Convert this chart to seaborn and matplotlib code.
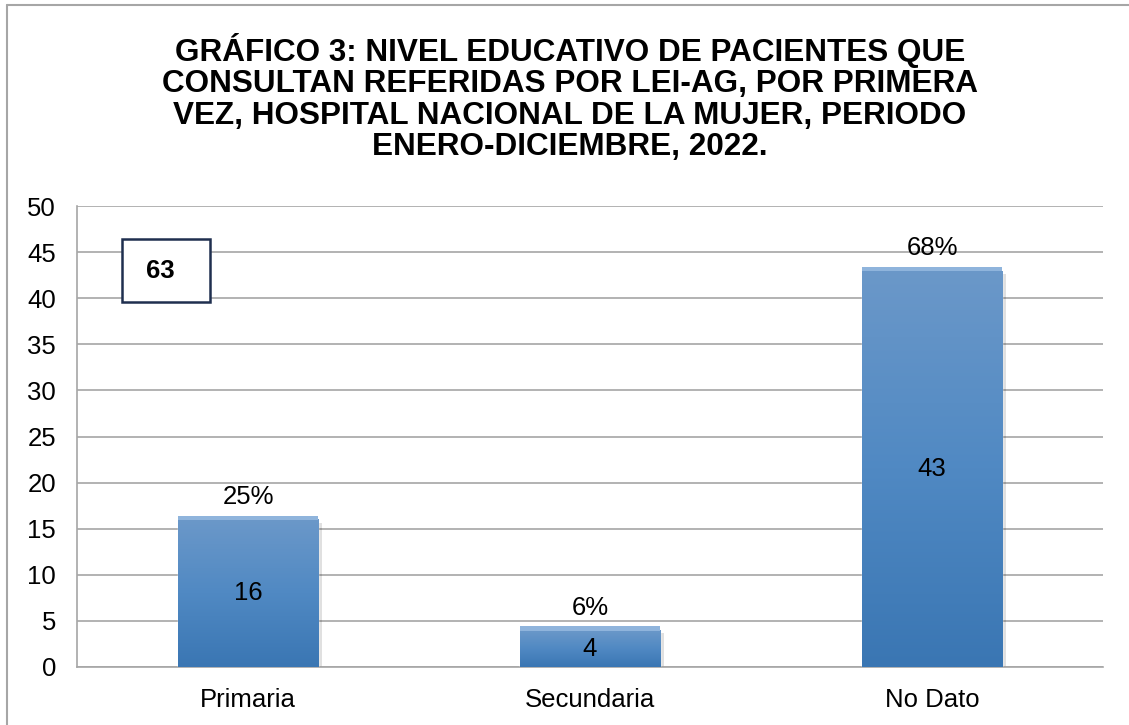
import numpy as np
import pandas as pd
import seaborn as sns
import matplotlib.pyplot as plt
from matplotlib.patches import Rectangle
from matplotlib.colors import LinearSegmentedColormap
from matplotlib.lines import Line2D

# Chart data
categories = ['Primaria', 'Secundaria', 'No Dato']
counts = [16, 4, 43]
percents = ['25%', '6%', '68%']
total = 63
yticks = [0, 5, 10, 15, 20, 25, 30, 35, 40, 45, 50]

title = ("GRÁFICO 3: NIVEL EDUCATIVO DE PACIENTES QUE\n"
         "CONSULTAN REFERIDAS POR LEI-AG, POR PRIMERA\n"
         "VEZ, HOSPITAL NACIONAL DE LA MUJER, PERIODO\n"
         "ENERO-DICIEMBRE, 2022.")

sns.set_style("white")
plt.rcParams['font.family'] = ['Liberation Sans', 'DejaVu Sans']
plt.rcParams['text.color'] = 'black'
plt.rcParams['xtick.labelcolor'] = 'black'
plt.rcParams['ytick.labelcolor'] = 'black'

GRID = '#a6a6a6'
FS = 18.5

fig = plt.figure(figsize=(11.29, 7.25), dpi=100)
ax = fig.add_axes([77 / 1129, 1 - 667 / 725, 1026 / 1129, 461 / 725])

df = pd.DataFrame({'cat': categories, 'n': counts})
sns.barplot(data=df, x='cat', y='n', width=0.41, color='#4a84c0', ax=ax, zorder=3)

# gradient fill for each bar
cmap = LinearSegmentedColormap.from_list('bar', ['#3a76b3', '#5089c3', '#6b98c9'])
grad = np.linspace(0, 1, 256).reshape(-1, 1)
for p in ax.patches:
    x0, y0 = p.get_x(), p.get_y()
    w, h = p.get_width(), p.get_height()
    # soft shadow
    ax.add_patch(Rectangle((x0 + 0.012, y0 - 0.35), w, h, facecolor='#000000',
                           alpha=0.12, edgecolor='none', zorder=2))
    im = ax.imshow(grad, cmap=cmap, origin='lower', aspect='auto',
                   extent=[x0, x0 + w, y0, y0 + h], zorder=4)
    im.set_clip_path(p)
    # light bevel on top edge
    ax.add_patch(Rectangle((x0, y0 + h - 0.1), w, 0.5, facecolor='#8fb4dc',
                           edgecolor='none', zorder=5))

for i, (n, pct) in enumerate(zip(counts, percents)):
    ax.text(i, n / 2, str(n), ha='center', va='center', fontsize=FS, zorder=6)
    ax.annotate(pct, (i, n), xytext=(0, 11), textcoords='offset points',
                ha='center', va='baseline', fontsize=FS, zorder=6)

# total box
ax.add_patch(Rectangle((-0.368, 39.6), 0.257, 6.8, facecolor='white',
                       edgecolor='#1f2f4f', linewidth=1.8, zorder=6))
ax.text(-0.257, 42.9, str(total), ha='center', va='center', fontsize=FS,
        fontweight='bold', zorder=7)

ax.set_xlim(-0.5, 2.5)
ax.set_ylim(0, 50)
ax.set_yticks(yticks)
ax.set_yticklabels([str(t) for t in yticks], fontsize=FS)
ax.yaxis.grid(True, color=GRID, linewidth=1.2, zorder=0)
ax.set_axisbelow(True)
ax.set_xlabel('')
ax.set_ylabel('')
ax.set_xticks(range(len(categories)))
ax.set_xticklabels(categories, fontsize=FS)
ax.set_xticks([-0.5, 0.5, 1.5, 2.5], minor=True)
ax.tick_params(axis='x', which='major', length=0, pad=15)
ax.tick_params(axis='x', which='minor', length=6, color=GRID, width=1.2)
ax.tick_params(axis='y', length=7, color=GRID, width=1.2, pad=8)
for s in ['top', 'right']:
    ax.spines[s].set_visible(False)
for s in ['left', 'bottom']:
    ax.spines[s].set_color(GRID)
    ax.spines[s].set_linewidth(1.2)

fig.text(570 / 1129, 1 - 33 / 725, title, ha='center', va='top', fontsize=22.7,
         fontweight='bold', linespacing=1.06)

# outer chart border
fig.add_artist(Line2D([7 / 1129, 7 / 1129], [0, 1 - 5 / 725], color=GRID, linewidth=1.5))
fig.add_artist(Line2D([7 / 1129, 1], [1 - 5 / 725, 1 - 5 / 725], color=GRID, linewidth=1.5))

fig.savefig('out.png', dpi=100)
